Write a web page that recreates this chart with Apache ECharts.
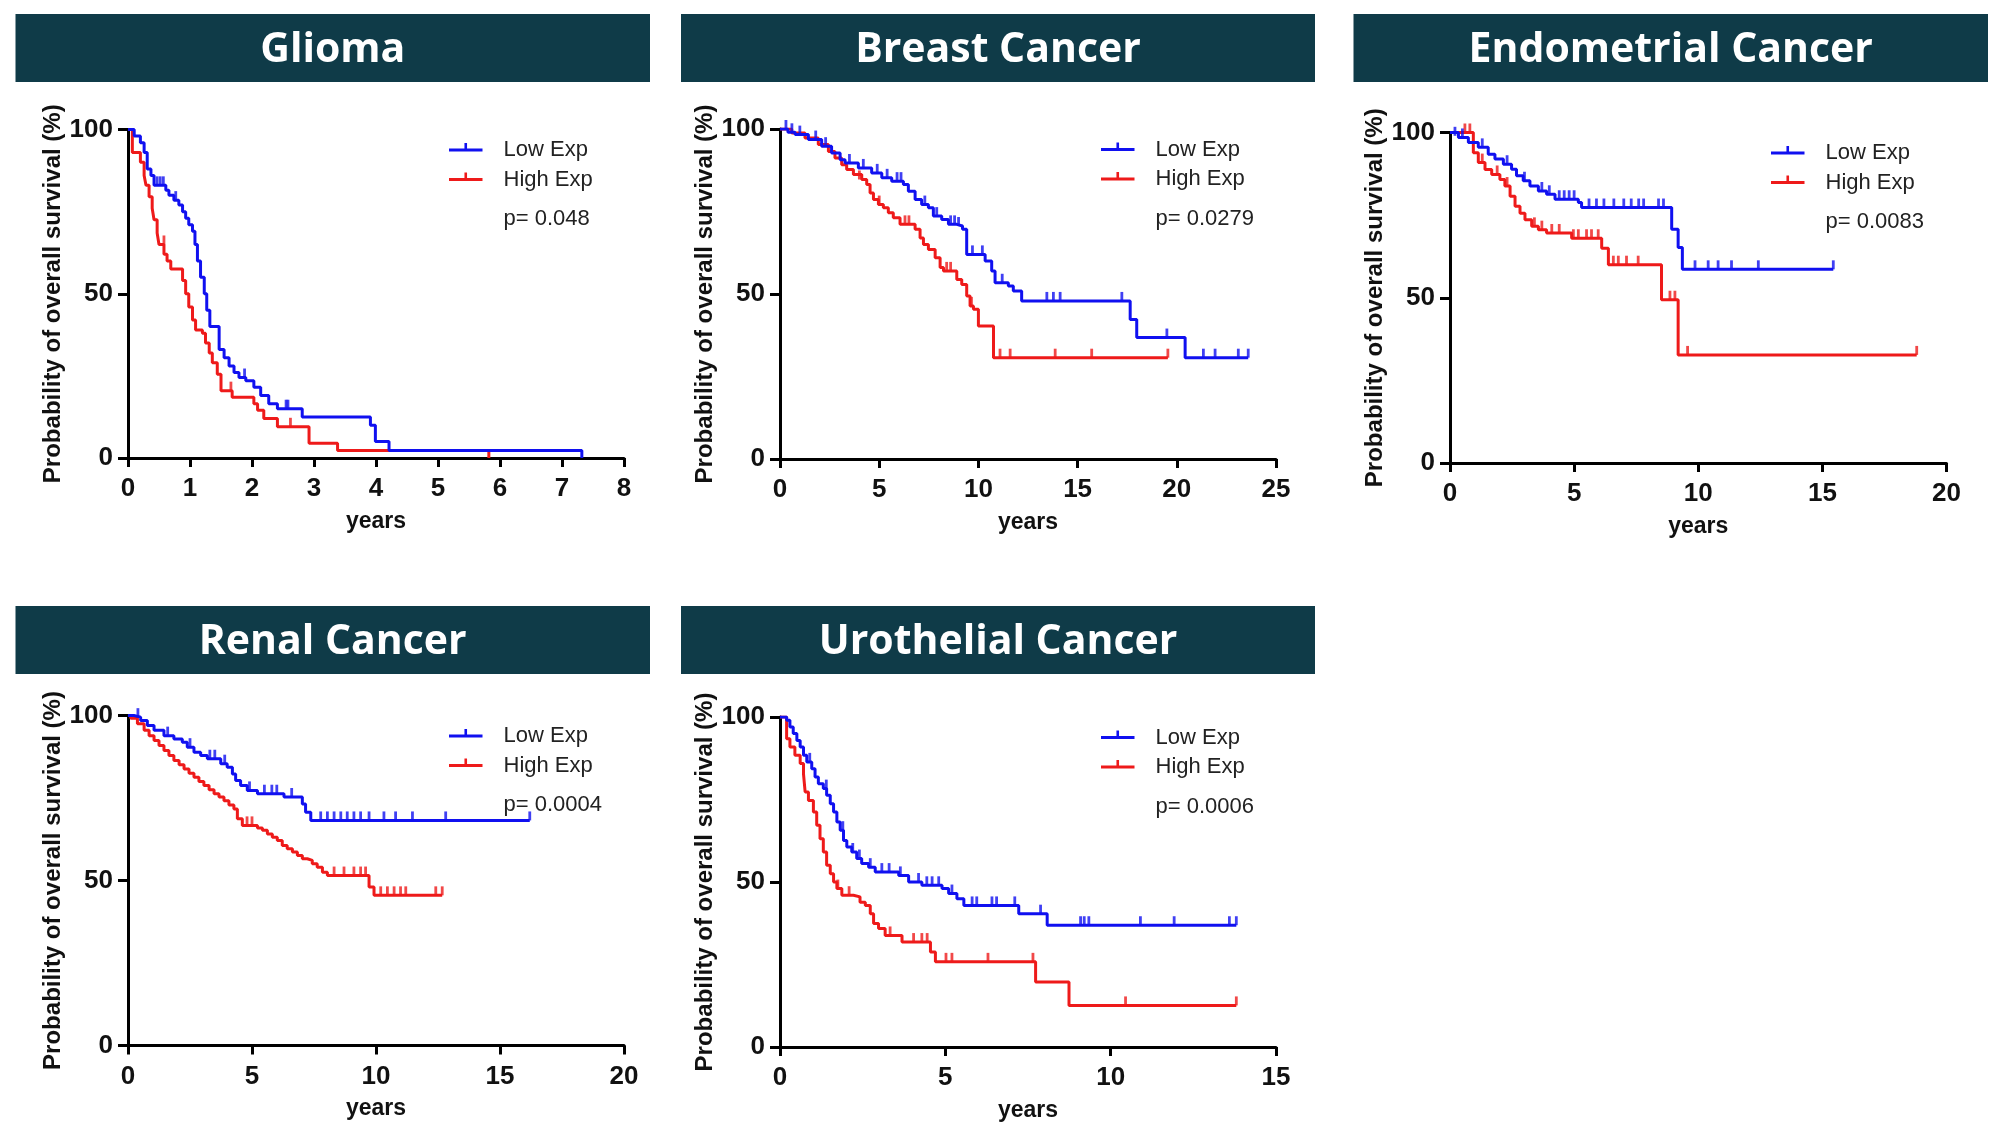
<!DOCTYPE html>
<html>
<head>
<meta charset="utf-8">
<script src="https://cdn.jsdelivr.net/npm/echarts@6/dist/echarts.min.js"></script>
<style>
html,body{margin:0;padding:0;background:#fff;}
#main{width:2000px;height:1131px;}
</style>
</head>
<body>
<div id="main"></div>
<script>
// ---------------- DATA ----------------
const panelTitles = ['Glioma', 'Breast Cancer', 'Endometrial Cancer', 'Renal Cancer', 'Urothelial Cancer'];
const pValues = ['p= 0.048', 'p= 0.0279', 'p= 0.0083', 'p= 0.0004', 'p= 0.0006'];
const seriesNames = ['Low Exp', 'High Exp'];
const xMax = [8, 25, 20, 20, 15];
const xInterval = [1, 5, 5, 5, 5];
const yTicks = [0, 50, 100];

// Glioma
const gliomaLow = [[0,100],[0.1,98],[0.2,96],[0.26,93],[0.31,88],[0.37,86],[0.42,83],[0.61,81.5],[0.66,80],[0.74,78.5],[0.82,77],[0.88,75],[0.93,73],[0.98,71],[1.04,69],[1.08,65],[1.12,60],[1.17,55],[1.23,50],[1.27,45],[1.32,40],[1.47,33],[1.55,30.5],[1.63,28],[1.71,26],[1.79,24.5],[1.9,23.5],[2.03,21.5],[2.14,19],[2.27,16.5],[2.41,15],[2.81,12.5],[3.91,10],[3.99,5],[4.21,2.3],[7.32,0]];
const gliomaLowCensor = [[0.47,83],[0.52,83],[0.57,83],[0.77,78.5],[1.88,24.5],[2.55,15],[2.58,15]];
const gliomaHigh = [[0,100],[0.07,93],[0.2,90],[0.26,86],[0.29,83],[0.34,79.5],[0.39,76],[0.42,72.5],[0.47,68.5],[0.5,65],[0.58,62],[0.63,60],[0.69,57.5],[0.88,54],[0.93,50],[0.98,46],[1.04,42],[1.09,39],[1.2,38],[1.25,35],[1.31,32],[1.36,29],[1.44,25.5],[1.5,20.5],[1.68,18.5],[2.03,16.5],[2.09,14.5],[2.19,12],[2.41,9.5],[2.92,4.5],[3.38,2.3],[5.82,0]];
const gliomaHighCensor = [[0.58,65],[1.66,20.5],[2.62,9.5]];

// Breast
const breastLow = [[0,100],[0.4,99],[0.76,98.3],[1.43,96.8],[2.1,94.8],[2.6,92.7],[3.03,90.7],[3.28,89.7],[3.95,88.2],[4.62,86.7],[5.13,85.2],[5.63,84.2],[6.22,83.2],[6.47,81.1],[6.81,78.6],[7.14,77.1],[7.48,76.1],[7.73,73.6],[8.15,72.6],[8.49,71.1],[8.91,70.6],[9.2,69.6],[9.41,62],[10.34,60],[10.67,57],[10.84,53.4],[11.51,52.4],[11.76,50.9],[12.18,47.9],[17.65,42.3],[17.98,36.8],[20.42,30.7],[23.6,30.7]];
const breastLowCensor = [[0.3,100],[0.6,99],[1.0,98.3],[1.8,96.8],[2.3,94.8],[3.5,89.7],[4.2,88.2],[4.9,86.7],[5.4,85.2],[5.9,84.2],[6.1,84.2],[7.3,77.1],[7.9,73.6],[8.6,71.1],[8.8,71.1],[9.0,70.6],[9.7,62],[10.2,62],[11.2,53.4],[13.45,47.9],[13.78,47.9],[14.12,47.9],[17.23,47.9],[19.5,36.8],[21.34,30.7],[21.93,30.7],[23.1,30.7],[23.6,30.7]];
const breastHigh = [[0,100],[0.59,98.8],[1.26,97.3],[1.93,95.3],[2.44,93.2],[2.77,91.2],[3.11,89.2],[3.36,87.7],[3.7,86.2],[4.12,84.7],[4.37,83.2],[4.54,80.6],[4.71,78.6],[4.96,77.1],[5.21,76.1],[5.46,74.6],[5.71,73.1],[6.05,71.1],[6.81,69.6],[7.06,67],[7.23,65],[7.48,63.5],[7.82,61],[8.07,58],[8.24,57],[8.91,54.4],[9.16,52.9],[9.41,49.4],[9.58,46.4],[9.75,45.4],[10.0,40.3],[10.76,30.7],[19.55,30.7]];
const breastHighCensor = [[4.0,84.7],[5.0,77.1],[6.3,71.1],[6.5,71.1],[8.4,57],[8.6,57],[9.65,46.4],[11.09,30.7],[11.6,30.7],[13.87,30.7],[15.71,30.7],[19.55,30.7]];

// Endometrial
const endoLow = [[0,100],[0.34,98.5],[0.74,97],[1.14,95.5],[1.54,93.4],[1.81,92],[2.15,90.4],[2.48,88.9],[2.68,86.9],[2.95,85.4],[3.22,83.8],[3.56,82.3],[3.89,81.3],[4.23,79.8],[5.17,78.8],[5.3,77.3],[8.93,70.7],[9.19,65.2],[9.36,58.6],[15.44,58.6]];
const endoLowCensor = [[0.2,99],[0.5,98.5],[1.3,95.5],[2.3,90.4],[3.0,85.4],[3.7,82.3],[4.0,81.3],[4.4,79.8],[4.6,79.8],[4.8,79.8],[5.0,79.8],[5.6,77.3],[5.9,77.3],[6.2,77.3],[6.6,77.3],[7.0,77.3],[7.3,77.3],[7.6,77.3],[7.8,77.3],[8.4,77.3],[8.6,77.3],[9.87,58.6],[10.4,58.6],[10.8,58.6],[11.34,58.6],[12.42,58.6],[15.44,58.6]];
const endoHigh = [[0,100],[0.94,93.9],[1.14,90.9],[1.41,88.8],[1.68,87.3],[2.01,85.8],[2.21,83.8],[2.42,80.7],[2.62,77.7],[2.82,75.6],[3.02,73.6],[3.29,71.6],[3.56,70.6],[3.89,69.6],[4.9,68],[6.11,65],[6.38,60],[8.52,49.4],[9.19,32.7],[18.8,32.7]];
const endoHighCensor = [[0.6,100],[0.8,100],[1.3,90.9],[1.9,87.3],[2.3,83.8],[3.4,71.6],[3.7,70.6],[4.1,69.6],[4.4,69.6],[4.97,68],[5.17,68],[5.5,68],[5.7,68],[5.97,68],[6.58,60],[6.78,60],[7.11,60],[7.58,60],[8.86,49.4],[9.06,49.4],[9.57,32.7],[18.8,32.7]];

// Renal
const renalLow = [[0,100],[0.24,99.5],[0.51,98.5],[0.78,97],[1.05,95.5],[1.45,93.9],[1.85,92.9],[2.19,91.9],[2.39,90.4],[2.66,88.9],[2.93,87.9],[3.2,86.9],[3.74,85.4],[4.0,84.3],[4.21,82.3],[4.34,80.3],[4.54,78.8],[4.81,77.3],[5.22,76.3],[6.29,75.3],[7.03,73.2],[7.16,70.7],[7.37,68.2],[16.2,68.2]];
const renalLowCensor = [[0.4,99.5],[1.6,93.9],[2.5,90.4],[3.3,86.9],[3.5,86.9],[3.9,85.4],[4.9,77.3],[5.5,76.3],[5.8,76.3],[6.0,76.3],[6.6,75.3],[7.77,68.2],[8.04,68.2],[8.31,68.2],[8.58,68.2],[8.84,68.2],[9.11,68.2],[9.38,68.2],[9.72,68.2],[10.32,68.2],[10.79,68.2],[11.47,68.2],[12.81,68.2],[16.2,68.2]];
const renalHigh = [[0,100],[0.11,99.2],[0.38,97.5],[0.65,95.5],[0.85,93.9],[1.05,92.4],[1.25,90.9],[1.45,89.4],[1.65,87.9],[1.85,86.4],[2.06,85.1],[2.26,83.8],[2.46,82.5],[2.66,81.3],[2.86,80],[3.06,78.8],[3.27,77.5],[3.47,76.3],[3.67,75.3],[3.87,74.2],[4.07,72.9],[4.27,71.7],[4.41,68.7],[4.61,66.7],[5.22,65.9],[5.42,65.2],[5.62,64.1],[5.82,63.1],[6.02,62.1],[6.22,60.6],[6.42,59.6],[6.63,58.6],[6.83,57.6],[7.03,56.6],[7.23,56.1],[7.43,55.1],[7.63,54],[7.84,52.5],[8.04,51.5],[9.72,48],[9.92,45.5],[12.67,45.5]];
const renalHighCensor = [[4.8,66.7],[5.0,66.7],[8.31,51.5],[8.71,51.5],[9.11,51.5],[9.38,51.5],[9.58,51.5],[10.19,45.5],[10.46,45.5],[10.73,45.5],[10.99,45.5],[11.2,45.5],[12.41,45.5],[12.67,45.5]];

// Urothelial
const uroLow = [[0,100],[0.2,99],[0.3,97],[0.4,95],[0.51,92.9],[0.61,90.9],[0.71,88.4],[0.81,86.4],[0.96,84.3],[1.06,81.8],[1.16,79.8],[1.31,78.3],[1.41,76.3],[1.52,73.7],[1.62,71.2],[1.72,68.2],[1.82,65.7],[1.92,62.6],[2.02,60.6],[2.17,59.1],[2.32,57.1],[2.47,55.6],[2.68,54.5],[2.88,53],[3.59,52],[3.89,50],[4.29,49],[4.9,48],[5.1,46.5],[5.35,44.9],[5.56,42.9],[7.22,40.4],[8.08,36.9],[13.8,36.9]];
const uroLowCensor = [[0.9,86.4],[1.4,78.3],[1.9,65.7],[2.2,59.1],[2.4,57.1],[2.73,54.5],[3.08,53],[3.3,53],[3.64,52],[4.19,50],[4.44,49],[4.6,49],[4.8,49],[5.2,46.5],[5.81,42.9],[5.95,42.9],[6.41,42.9],[6.55,42.9],[7.1,42.9],[7.88,40.4],[9.09,36.9],[9.2,36.9],[9.34,36.9],[10.9,36.9],[11.92,36.9],[13.59,36.9],[13.8,36.9]];
const uroHigh = [[0,100],[0.2,93.4],[0.3,90.9],[0.45,88.4],[0.61,85.9],[0.71,82.8],[0.76,77.3],[0.86,74.7],[1.01,71.2],[1.11,67.2],[1.21,63.1],[1.31,59.1],[1.41,55.1],[1.52,52.5],[1.62,50],[1.72,48],[1.87,46],[2.22,45.5],[2.42,43.9],[2.58,42.9],[2.73,40.4],[2.83,37.4],[2.98,35.9],[3.18,33.8],[3.69,31.8],[4.55,28.8],[4.7,25.8],[7.73,19.7],[8.74,12.6],[13.8,12.6]];
const uroHighCensor = [[1.75,48],[2.09,46],[3.33,33.8],[4.04,31.8],[4.29,31.8],[4.45,31.8],[5.02,25.8],[5.2,25.8],[6.29,25.8],[7.65,25.8],[10.45,12.6],[13.8,12.6]];

const lowCurves = [gliomaLow, breastLow, endoLow, renalLow, uroLow];
const lowCensors = [gliomaLowCensor, breastLowCensor, endoLowCensor, renalLowCensor, uroLowCensor];
const highCurves = [gliomaHigh, breastHigh, endoHigh, renalHigh, uroHigh];
const highCensors = [gliomaHighCensor, breastHighCensor, endoHighCensor, renalHighCensor, uroHighCensor];

// ---------------- LAYOUT ----------------
const grids = [
  {left:128, top:129.5, width:496, height:328.5},
  {left:780, top:129, width:496, height:330},
  {left:1450, top:132.5, width:496.5, height:330.5},
  {left:128, top:715.5, width:496, height:330},
  {left:780, top:717, width:496, height:330}
];
const headers = [
  {x:15.5, y:14, w:634.5, h:68},
  {x:681, y:14, w:634, h:68},
  {x:1353.5, y:14, w:634.5, h:68},
  {x:15.5, y:606, w:634.5, h:68},
  {x:681, y:606, w:634, h:68}
];
const BLUE = '#1010f0';
const RED = '#ee1a1a';
const HEADER = '#0f3b48';

const xAxes = [], yAxes = [], series = [], graphics = [];
grids.forEach((g, i) => {
  xAxes.push({
    gridIndex: i, type: 'value', min: 0, max: xMax[i], interval: xInterval[i],
    name: 'years', nameLocation: 'middle', nameGap: 52,
    nameTextStyle: {fontFamily: 'Liberation Sans', fontWeight: 'bold', fontSize: 23, color: '#111'},
    axisLine: {show: true, onZero: false, lineStyle: {color: '#000', width: 3}},
    axisTick: {show: true, length: 9, lineStyle: {color: '#000', width: 3}},
    axisLabel: {fontFamily: 'Liberation Sans', fontWeight: 'bold', fontSize: 26, color: '#111', margin: 18},
    splitLine: {show: false}
  });
  yAxes.push({
    gridIndex: i, type: 'value', min: yTicks[0], max: yTicks[2], interval: yTicks[1] - yTicks[0],
    name: 'Probability of overall survival (%)', nameLocation: 'middle', nameGap: 62, nameRotate: 90,
    nameTextStyle: {fontFamily: 'Liberation Sans', fontWeight: 'bold', fontSize: 24, color: '#111'},
    axisLine: {show: true, onZero: false, lineStyle: {color: '#000', width: 3}},
    axisTick: {show: true, length: 10, lineStyle: {color: '#000', width: 3}},
    axisLabel: {fontFamily: 'Liberation Sans', fontWeight: 'bold', fontSize: 26, color: '#111', margin: 15},
    splitLine: {show: false}
  });
  const curves = [[highCurves[i], highCensors[i], RED, seriesNames[1]], [lowCurves[i], lowCensors[i], BLUE, seriesNames[0]]];
  curves.forEach(([curve, cens, col, nm]) => {
    series.push({
      type: 'line', name: nm, xAxisIndex: i, yAxisIndex: i, data: curve, step: 'end',
      showSymbol: false, symbol: 'none', lineStyle: {color: col, width: 3}, itemStyle: {color: col},
      animation: false, z: 3
    });
    series.push({
      type: 'scatter', name: nm, xAxisIndex: i, yAxisIndex: i, data: cens,
      symbol: 'rect', symbolSize: [2.8, 9], symbolOffset: [0, -4.5],
      itemStyle: {color: col}, animation: false, z: 4
    });
  });
  // header
  const h = headers[i];
  graphics.push({type: 'rect', shape: {x: h.x, y: h.y, width: h.w, height: h.h}, style: {fill: HEADER}, silent: true});
  graphics.push({type: 'text', x: h.x + h.w / 2, y: h.y + h.h / 2 + 2,
    style: {text: panelTitles[i], fill: '#fff', font: 'bold 41px "Open Sans"', textAlign: 'center', textVerticalAlign: 'middle', align: 'center', verticalAlign: 'middle'}, silent: true});
  // legend
  const lx = g.left + 321, lw = 33.5, tx = g.left + 375.5;
  const ys = [g.top + 20.5, g.top + 50, g.top + 89.5];
  [[BLUE, seriesNames[0], ys[0]], [RED, seriesNames[1], ys[1]]].forEach(([col, nm, yy]) => {
    graphics.push({type: 'line', shape: {x1: lx, y1: yy, x2: lx + lw, y2: yy}, style: {stroke: col, lineWidth: 3}, silent: true});
    graphics.push({type: 'line', shape: {x1: lx + lw / 2, y1: yy, x2: lx + lw / 2, y2: yy - 7}, style: {stroke: col, lineWidth: 2.6}, silent: true});
    graphics.push({type: 'text', x: tx, y: yy,
      style: {text: nm, fill: '#222', font: '22px "Liberation Sans"', textAlign: 'left', textVerticalAlign: 'middle', align: 'left', verticalAlign: 'middle'}, silent: true});
  });
  graphics.push({type: 'text', x: tx, y: ys[2],
    style: {text: pValues[i], fill: '#222', font: '22px "Liberation Sans"', textAlign: 'left', textVerticalAlign: 'middle', align: 'left', verticalAlign: 'middle'}, silent: true});
});

const chart = echarts.init(document.getElementById('main'), null, {renderer: 'canvas'});
chart.setOption({
  backgroundColor: '#fff',
  animation: false,
  grid: grids.map(g => Object.assign({containLabel: false}, g)),
  xAxis: xAxes,
  yAxis: yAxes,
  series: series,
  graphic: {elements: graphics}
});
</script>
</body>
</html>
